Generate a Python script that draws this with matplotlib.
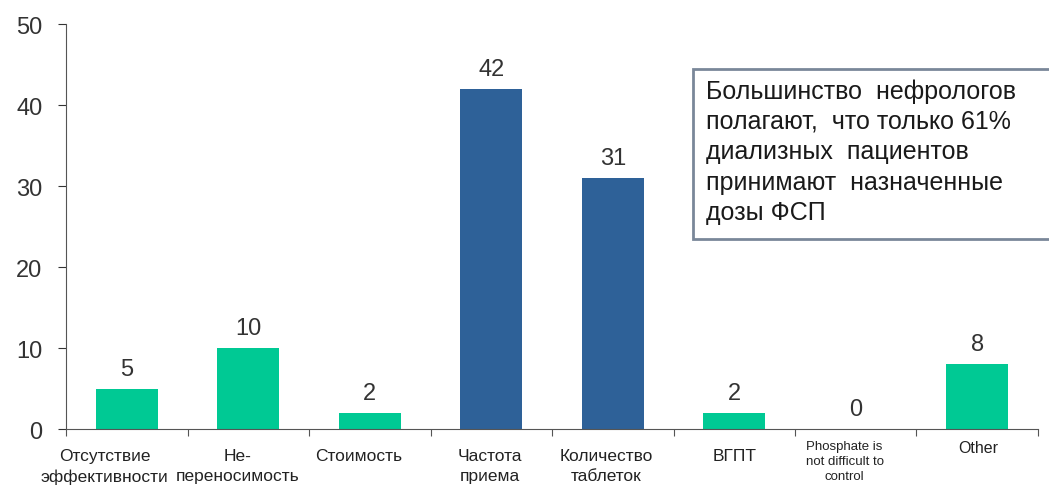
import numpy as np
import matplotlib.pyplot as plt
from matplotlib.patches import Rectangle
from matplotlib.transforms import blended_transform_factory

plt.rcParams['font.family'] = ['Liberation Sans', 'DejaVu Sans']

categories = ['Отсутствие\nэффективности', 'Не-\nпереносимость', 'Стоимость',
              'Частота\nприема', 'Количество\nтаблеток', 'ВГПТ',
              'Phosphate is\nnot difficult to\ncontrol', 'Other']
values = [5, 10, 2, 42, 31, 2, 0, 8]
highlight = [False, False, False, True, True, False, False, False]

green = '#00C994'
blue = '#2E6198'
colors = [blue if h else green for h in highlight]

fig = plt.figure(figsize=(10.49, 5.02), dpi=100)
ax = fig.add_axes([0.063, 0.1434, 0.9265, 0.8066])

x = np.arange(len(categories))
bars = ax.bar(x, values, width=0.51, color=colors, zorder=2)

for xi, v in zip(x, values):
    ax.text(xi, v + 1.1, str(v), ha='center', va='bottom', fontsize=17, color='#333333')

ax.set_xlim(-0.5, len(categories) - 0.5)
ax.set_ylim(0, 50)
ax.set_yticks(range(0, 51, 10))
ax.tick_params(axis='y', labelsize=17, colors='#333333', length=6, direction='out', pad=11)

# category ticks sit between the bars, labels are placed by hand under each bar
ax.set_xticks(np.arange(-0.5, len(categories) + 0.5, 1))
ax.set_xticklabels([])
ax.tick_params(axis='x', length=5, direction='out', color='#555555')
trans = blended_transform_factory(ax.transData, ax.transAxes)
# horizontal nudges (points) so the wide labels don't collide
nudge = [-16, -8, -8, -1, -5, 0, -8, 1]
for xi, lab, dx in zip(x, categories, nudge):
    latin = lab[0].isascii()
    size = 9.5 if latin else 12.5
    if lab == 'Other':
        size = 11.5
    ax.annotate(lab, (xi, 0), xycoords=trans,
                xytext=(dx, -8 if latin else -14), textcoords='offset points',
                ha='center', va='top', fontsize=size,
                color='#222222', linespacing=1.3 if latin else 1.4)

for side in ['top', 'right']:
    ax.spines[side].set_visible(False)
ax.spines['left'].set_color('#555555')
ax.spines['bottom'].set_color('#555555')

# note box runs off the right edge
fig.patches.append(Rectangle((693 / 1049, 1 - 240 / 502), 0.4, 170 / 502,
                             transform=fig.transFigure, facecolor='white',
                             edgecolor='#7a8799', linewidth=2, zorder=3))
note = ('Большинство  нефрологов\nполагают,  что только 61%\n'
        'диализных  пациентов\nпринимают  назначенные\nдозы ФСП')
fig.text(706 / 1049, 1 - 79 / 502, note, fontsize=18, color='#1a1a1a', va='top', ha='left',
         linespacing=1.34, zorder=4)

fig.savefig('out.png', dpi=100)
